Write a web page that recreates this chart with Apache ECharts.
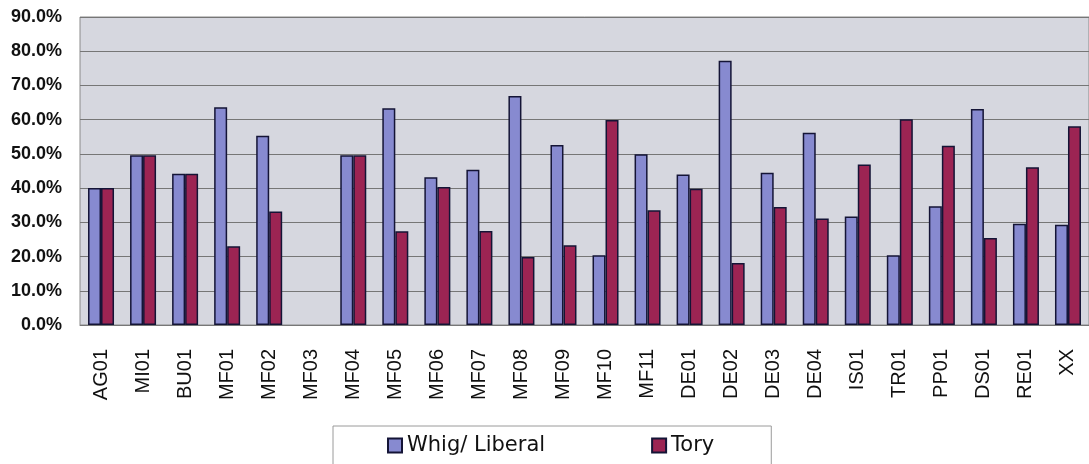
<!DOCTYPE html>
<html>
<head>
<meta charset="utf-8">
<script src="https://cdn.jsdelivr.net/npm/echarts@6/dist/echarts.min.js"></script>
<style>
  html, body { margin: 0; padding: 0; background: #fff; }
  #chart { width: 1089px; height: 464px; }
</style>
</head>
<body>
<div id="chart"></div>
<script>
// categories along the x axis
var categories = ["AG01", "MI01", "BU01", "MF01", "MF02", "MF03", "MF04", "MF05", "MF06", "MF07", "MF08", "MF09",
  "MF10", "MF11", "DE01", "DE02", "DE03", "DE04", "IS01", "TR01", "PP01", "DS01", "RE01", "XX"];
// percent values (MF03 has no bars)
var whigLiberal = [40.0, 49.6, 44.2, 63.6, 55.3, null, 49.6, 63.3, 43.2, 45.4, 66.9, 52.6,
  20.4, 49.9, 44.0, 77.2, 44.5, 56.2, 31.7, 20.4, 34.7, 63.1, 29.6, 29.3];
var tory = [40.0, 49.6, 44.2, 23.0, 33.2, null, 49.6, 27.4, 40.3, 27.5, 19.9, 23.3,
  59.9, 33.5, 39.8, 18.1, 34.5, 31.1, 46.9, 60.1, 52.4, 25.4, 46.1, 58.1];
var seriesNames = ["Whig/ Liberal", "Tory"];

var chart = echarts.init(document.getElementById("chart"));
var option = {
  animation: false,
  textStyle: { fontFamily: "Liberation Sans, Arial, sans-serif" },
  grid: {
    left: 80,
    top: 17,
    width: 1013,
    bottom: 139,
    show: true,
    backgroundColor: "#d6d7df",
    borderColor: "#8a8a8a",
    borderWidth: 1
  },
  legend: {
    data: seriesNames,
    icon: "rect",
    left: 333,
    top: 426,
    itemWidth: 14,
    itemHeight: 14,
    itemGap: 106,
    padding: [9, 57, 30, 54],
    borderColor: "#9a9a9a",
    borderWidth: 1,
    textStyle: { fontSize: 21, color: "#111", fontFamily: "DejaVu Sans" }
  },
  xAxis: {
    type: "category",
    data: categories,
    axisLine: { lineStyle: { color: "#777" } },
    axisTick: { inside: true, length: 5, lineStyle: { color: "#777" } },
    axisLabel: {
      rotate: 90,
      margin: 24,
      fontSize: 20,
      color: "#111",
      interval: 0
    }
  },
  yAxis: {
    type: "value",
    min: 0,
    max: 90,
    interval: 10,
    axisLine: { show: false },
    axisTick: { show: false },
    splitLine: { lineStyle: { color: "#767676", width: 1.2 } },
    axisLabel: {
      margin: 18,
      fontSize: 18,
      fontWeight: "bold",
      color: "#111",
      formatter: function (v) { return v.toFixed(1) + "%"; }
    }
  },
  series: [
    {
      name: seriesNames[0],
      type: "bar",
      data: whigLiberal,
      barWidth: 13,
      barGap: "0%",
      itemStyle: { color: "#878ad0", borderColor: "#141436", borderWidth: 1.5 }
    },
    {
      name: seriesNames[1],
      type: "bar",
      data: tory,
      barWidth: 13,
      barGap: "0%",
      itemStyle: { color: "#9c2453", borderColor: "#141436", borderWidth: 1.5 }
    }
  ]
};
chart.setOption(option);
</script>
</body>
</html>
